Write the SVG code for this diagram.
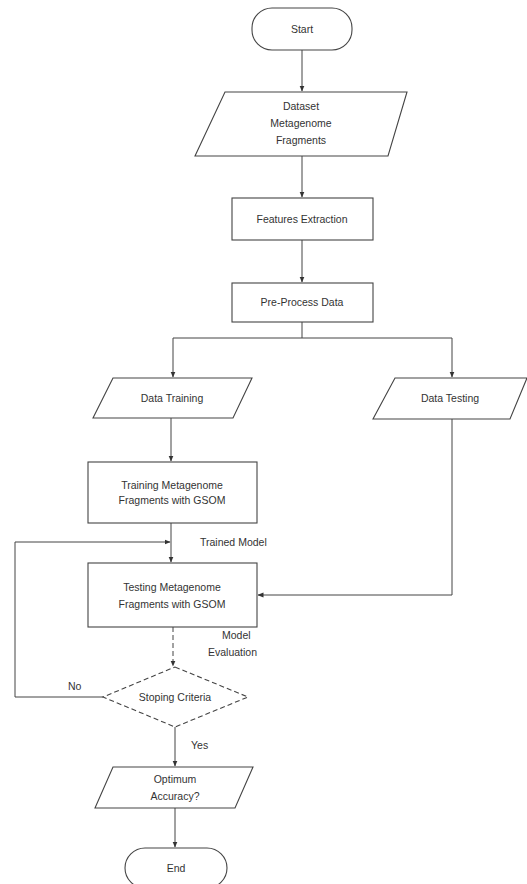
<svg xmlns="http://www.w3.org/2000/svg" width="527" height="884" viewBox="0 0 527 884">
<defs>
<marker id="arr" viewBox="0 0 6 6" refX="5.5" refY="3" markerWidth="6" markerHeight="6" orient="auto" markerUnits="userSpaceOnUse">
<path d="M0,0.5 L6,3 L0,5.5 Z" fill="#333"/>
</marker>
<style>
.s{fill:#fff;stroke:#444;stroke-width:1.1}
.d{stroke-dasharray:5,3}
.c{fill:none;stroke:#444;stroke-width:1}
.t{font-family:"Liberation Sans",Arial,sans-serif;font-size:10.5px;fill:#333;text-anchor:middle}
.l{font-family:"Liberation Sans",Arial,sans-serif;font-size:10.5px;fill:#333}
</style>
</defs>
<rect width="527" height="884" fill="#fff"/>
<g id="connectors">
<path class="c" d="M302,50 V91" marker-end="url(#arr)"/>
<path class="c" d="M302,156 V197" marker-end="url(#arr)"/>
<path class="c" d="M302,240 V282" marker-end="url(#arr)"/>
<path class="c" d="M302,322 V338 M173,338 H452"/>
<path class="c" d="M173,338 V377" marker-end="url(#arr)"/>
<path class="c" d="M452,338 V377" marker-end="url(#arr)"/>
<path class="c" d="M171,418 V461" marker-end="url(#arr)"/>
<path class="c" d="M171,523 V562" marker-end="url(#arr)"/>
<path class="c" d="M452,419 V595 H258" marker-end="url(#arr)"/>
<path class="c d" d="M173,627 V666" marker-end="url(#arr)"/>
<path class="c" d="M103,697 H15 V542 H170" marker-end="url(#arr)"/>
<path class="c" d="M175,727 V766" marker-end="url(#arr)"/>
<path class="c" d="M175,808 V847" marker-end="url(#arr)"/>
<text class="l" x="200" y="546">Trained Model</text>
<text class="l" x="222" y="639">Model</text>
<text class="l" x="208" y="656">Evaluation</text>
<text class="l" x="68" y="690">No</text>
<text class="l" x="191" y="749">Yes</text>
</g>
<g id="start">
<rect class="s" x="252" y="8" width="100" height="42" rx="20"/>
<text class="t" x="302" y="33">Start</text>
</g>
<g id="dataset">
<polygon class="s" points="225,92 407,92 388,156 195,156"/>
<text class="t" x="301" y="110">Dataset</text>
<text class="t" x="301" y="127">Metagenome</text>
<text class="t" x="301" y="144">Fragments</text>
</g>
<g id="features">
<rect class="s" x="232" y="198" width="141" height="42"/>
<text class="t" x="302" y="223">Features Extraction</text>
</g>
<g id="preprocess">
<rect class="s" x="232" y="283" width="141" height="39"/>
<text class="t" x="302" y="306">Pre-Process Data</text>
</g>
<g id="datatraining">
<polygon class="s" points="113,378 252,378 233,418 93,418"/>
<text class="t" x="172" y="402">Data Training</text>
</g>
<g id="datatesting">
<polygon class="s" points="395,378 527,378 510,419 373,419"/>
<text class="t" x="450" y="402">Data Testing</text>
</g>
<g id="training">
<rect class="s" x="88" y="462" width="169" height="61"/>
<text class="t" x="172" y="489">Training Metagenome</text>
<text class="t" x="172" y="504">Fragments with GSOM</text>
</g>
<g id="testing">
<rect class="s" x="88" y="563" width="169" height="64"/>
<text class="t" x="172" y="591">Testing Metagenome</text>
<text class="t" x="172" y="608">Fragments with GSOM</text>
</g>
<g id="stopping">
<polygon class="s d" points="175,667 248,697 175,727 103,697"/>
<text class="t" x="175" y="701">Stoping Criteria</text>
</g>
<g id="optimum">
<polygon class="s" points="113,767 253,767 235,808 95,808"/>
<text class="t" x="175" y="783">Optimum</text>
<text class="t" x="175" y="800">Accuracy?</text>
</g>
<g id="end">
<rect class="s" x="125" y="848" width="102" height="40" rx="20"/>
<text class="t" x="176" y="872">End</text>
</g>
</svg>
